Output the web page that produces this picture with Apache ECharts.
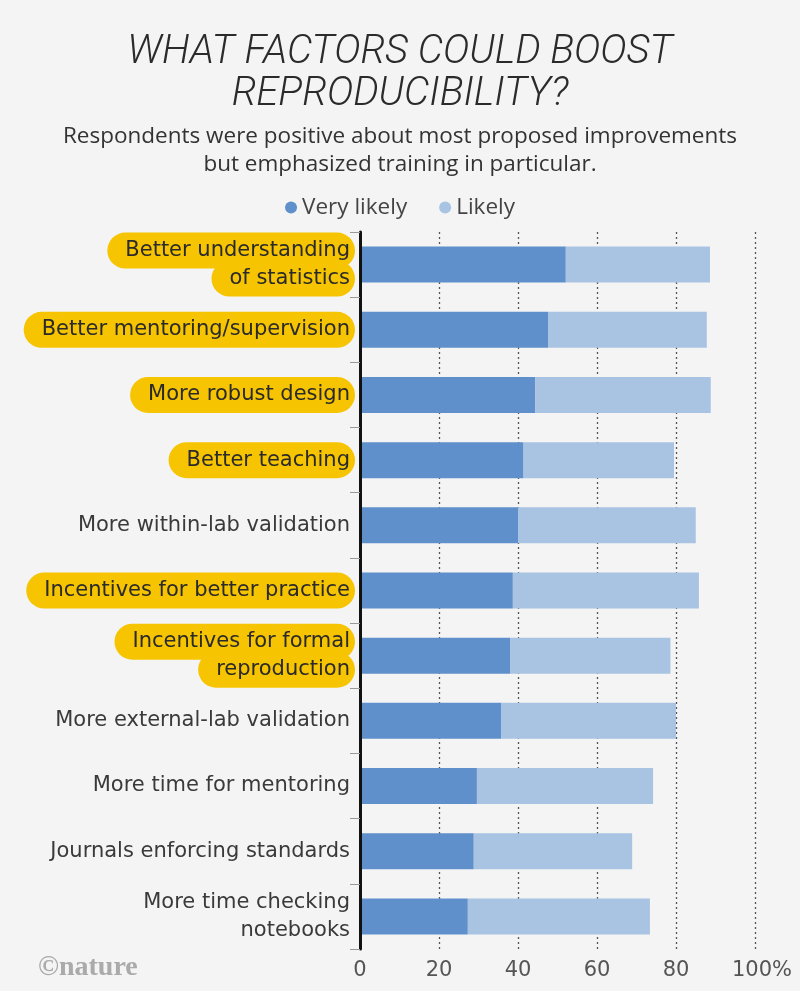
<!DOCTYPE html>
<html>
<head>
<meta charset="utf-8">
<script src="https://cdn.jsdelivr.net/npm/echarts@6/dist/echarts.min.js"></script>
<style>
html,body{margin:0;padding:0;background:#f4f4f4;}
#chart{width:800px;height:991px;}
</style>
</head>
<body>
<div id="chart"></div>
<script>
var categories = [
  "Better understanding\nof statistics",
  "Better mentoring/supervision",
  "More robust design",
  "Better teaching",
  "More within-lab validation",
  "Incentives for better practice",
  "Incentives for formal\nreproduction",
  "More external-lab validation",
  "More time for mentoring",
  "Journals enforcing standards",
  "More time checking\nnotebooks"
];
var highlighted = [0, 1, 2, 3, 5, 6];
var veryLikely = [52.1, 47.6, 44.4, 41.4, 40.0, 38.7, 38.1, 35.8, 29.6, 28.8, 27.3];
var likely     = [36.5, 40.2, 44.4, 38.1, 45.0, 47.1, 40.5, 44.2, 44.6, 40.1, 46.1];
var xTicks = [0, 20, 40, 60, 80, 100];
var seriesNames = ["Very likely", "Likely"];

var chart = echarts.init(document.getElementById('chart'), null, {renderer: 'canvas'});
var labelFont = "'DejaVu Sans', sans-serif";
var option = {
  backgroundColor: '#f4f4f4',
  animation: false,
  title: [{
    text: 'WHAT FACTORS COULD BOOST\nREPRODUCIBILITY?',
    left: 'center', top: 27,
    textStyle: {fontFamily: 'Roboto', fontStyle: 'italic', fontWeight: 300, fontSize: 40, lineHeight: 42, color: '#2b2b2b'}
  }, {
    text: 'Respondents were positive about most proposed improvements\nbut emphasized training in particular.',
    left: 'center', top: 118,
    textStyle: {fontFamily: "'Open Sans'", fontWeight: 'normal', fontSize: 22.5, lineHeight: 28, color: '#333'}
  }],
  legend: {
    top: 191, left: 'center',
    icon: 'circle', itemWidth: 12, itemHeight: 12, itemGap: 32,
    textStyle: {fontFamily: "'Open Sans'", fontSize: 22.5, color: '#444'},
    data: seriesNames
  },
  grid: {left: 360, right: 45, top: 232, bottom: 42},
  xAxis: {
    type: 'value', min: 0, max: 100, interval: 20,
    axisLine: {show: false}, axisTick: {show: false},
    splitLine: {show: true, lineStyle: {type: [2, 3], color: '#555', width: 1.3}},
    axisLabel: {
      margin: 11, color: '#555', fontFamily: labelFont, fontSize: 21,
      formatter: function (v) { return v === 100 ? '{p|' + v + '%}' : String(v); },
      rich: {p: {fontFamily: labelFont, fontSize: 21, color: '#555', padding: [0, 0, 0, 14]}}
    }
  },
  yAxis: {
    type: 'category', inverse: true, data: categories,
    axisLine: {show: true, lineStyle: {color: '#111', width: 3}},
    axisTick: {show: true, length: 10, lineStyle: {color: '#999', width: 1}},
    axisLabel: {
      margin: 5, align: 'right',
      formatter: function (value, idx) {
        var lines = value.split('\n');
        var st = highlighted.indexOf(idx) >= 0 ? 'h' : 'n';
        return lines.map(function (l) { return '{' + st + '|' + l + '}'; }).join('\n');
      },
      rich: {
        h: {fontFamily: labelFont, fontSize: 21, color: '#2a2a2a', backgroundColor: '#f6c400',
            borderRadius: 18, padding: [4, 5, 4, 18], height: 28, lineHeight: 28},
        n: {fontFamily: labelFont, fontSize: 21, color: '#3a3a3a', padding: [0, 5, 0, 0], lineHeight: 28}
      }
    },
    z: 10
  },
  series: [{
    name: seriesNames[0], type: 'bar', stack: 'total', data: veryLikely,
    barWidth: 36, itemStyle: {color: '#5f90cb'}
  }, {
    name: seriesNames[1], type: 'bar', stack: 'total', data: likely,
    barWidth: 36, itemStyle: {color: '#a9c3e2'}
  }],
  graphic: [{
    type: 'text', left: 38, top: 954,
    style: {text: '\u00a9nature', fontFamily: "'Liberation Serif', serif", fontWeight: 'bold', fontSize: 28, fill: '#aaaaaa'}
  }]
};
chart.setOption(option);
</script>
</body>
</html>
